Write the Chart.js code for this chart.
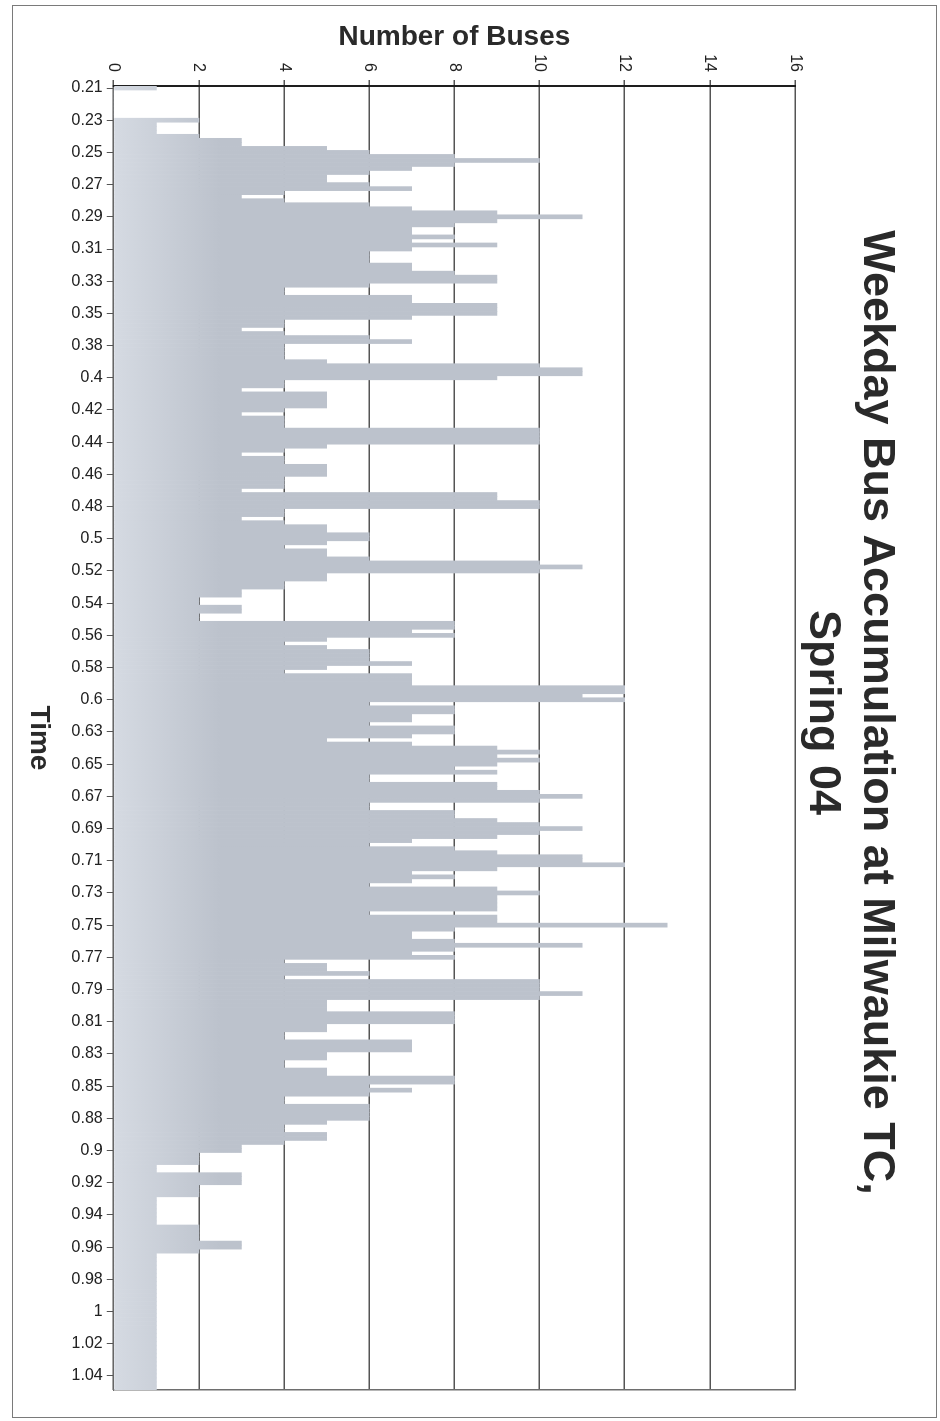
<!DOCTYPE html>
<html>
<head>
<meta charset="utf-8">
<title>Weekday Bus Accumulation at Milwaukie TC, Spring 04</title>
<script src="https://cdn.jsdelivr.net/npm/chart.js@4/dist/chart.umd.min.js"></script>
<style>
	html, body { margin: 0; padding: 0; background: #fff; }
	body { width: 940px; height: 1421px; position: relative; overflow: hidden; }
	#frame { position: absolute; left: 12px; top: 5px; width: 923px; height: 1411px; border: 1.5px solid #7a7a7a; }
	/* the chart was laid out sideways: draw it upright, then turn it a quarter clockwise */
	#turn { position: absolute; left: 0; top: 0; width: 1421px; height: 940px;
		transform-origin: 0 0; transform: translateX(940px) rotate(90deg); }
</style>
</head>
<body>
<div id="frame"></div>
<div id="turn"><canvas id="busChart" width="1421" height="940"></canvas></div>
<script>
// Weekday bus accumulation, Milwaukie TC, Spring 04

// time labels shown on the axis (fraction of a day), one every 8 bars
const tickLabels = [
	'0.21', '0.23', '0.25', '0.27', '0.29', '0.31', '0.33', '0.35', '0.38', '0.4',
	'0.42', '0.44', '0.46', '0.48', '0.5', '0.52', '0.54', '0.56', '0.58', '0.6',
	'0.63', '0.65', '0.67', '0.69', '0.71', '0.73', '0.75', '0.77', '0.79', '0.81',
	'0.83', '0.85', '0.88', '0.9', '0.92', '0.94', '0.96', '0.98', '1', '1.02', '1.04'
];
const barsPerLabel = 8;

// number of buses at the stop (8 readings per label step)
const busCounts = [
	1, 0, 0, 0, 0, 0, 0, 0,      // 0.21
	2, 1, 1, 1, 2, 3, 3, 5,      // 0.23
	6, 8, 10, 8, 7, 6, 5, 5,     // 0.25
	6, 7, 4, 3, 4, 6, 7, 9,      // 0.27
	11, 9, 8, 7, 7, 8, 7, 9,     // 0.29
	7, 6, 6, 6, 7, 7, 8, 9,      // 0.31
	9, 6, 4, 4, 7, 7, 9, 9,      // 0.33
	9, 7, 4, 4, 3, 4, 6, 7,      // 0.35
	4, 4, 4, 4, 5, 10, 11, 11,   // 0.38
	9, 4, 4, 3, 5, 5, 5, 5,      // 0.4
	4, 3, 4, 4, 4, 10, 10, 10,   // 0.42
	10, 5, 4, 3, 4, 4, 5, 5,     // 0.44
	5, 4, 4, 4, 3, 9, 9, 10,     // 0.46
	10, 4, 4, 3, 4, 5, 5, 6,     // 0.48
	6, 5, 4, 5, 5, 6, 10, 11,    // 0.5
	10, 5, 5, 4, 4, 3, 3, 2,     // 0.52
	2, 3, 3, 2, 2, 8, 8, 7,      // 0.54
	8, 5, 4, 5, 6, 6, 6, 7,      // 0.56
	5, 4, 7, 7, 7, 12, 12, 11,   // 0.58
	12, 6, 8, 8, 7, 7, 6, 8,     // 0.6
	8, 7, 5, 7, 9, 10, 9, 10,    // 0.63
	9, 8, 9, 6, 6, 9, 9, 10,     // 0.65
	11, 10, 6, 6, 8, 8, 9, 10,   // 0.67
	11, 10, 9, 7, 6, 8, 9, 11,   // 0.69
	11, 12, 9, 7, 8, 7, 6, 9,    // 0.71
	10, 9, 9, 9, 9, 6, 9, 9,     // 0.73
	13, 8, 7, 7, 8, 11, 8, 7,    // 0.75
	8, 4, 5, 5, 6, 4, 10, 10,    // 0.77
	10, 11, 10, 5, 5, 5, 8, 8,   // 0.79
	8, 5, 5, 4, 4, 7, 7, 7,      // 0.81
	5, 5, 4, 4, 5, 5, 8, 8,      // 0.83
	6, 7, 6, 4, 4, 6, 6, 6,      // 0.85
	6, 5, 4, 4, 5, 5, 4, 3,      // 0.88
	3, 2, 2, 2, 1, 1, 3, 3,      // 0.9
	3, 2, 2, 2, 1, 1, 1, 1,      // 0.92
	1, 1, 1, 2, 2, 2, 2, 3,      // 0.94
	3, 2, 1, 1, 1, 1, 1, 1,      // 0.96
	1, 1, 1, 1, 1, 1, 1, 1,      // 0.98
	1, 1, 1, 1, 1, 1, 1, 1,      // 1
	1, 1, 1, 1, 1, 1, 1, 1,      // 1.02
	1, 1, 1, 1                   // 1.04
];

// value axis
const busMin = 0;
const busMax = 16;
const busStep = 2;

// one category per bar, labelled only where the axis shows a time
const categories = busCounts.map((v, i) =>
	i % barsPerLabel === 0 ? (tickLabels[i / barsPerLabel] || '') : '');

Chart.defaults.font.family = 'Arial, "Liberation Sans", sans-serif';
Chart.defaults.color = '#262626';

function barFill(context) {
	const chart = context.chart;
	if (!chart.chartArea) return '#bfc5cf';
	const y = chart.scales.y;
	const g = chart.ctx.createLinearGradient(0, y.getPixelForValue(0), 0, y.getPixelForValue(2.5));
	g.addColorStop(0, '#d5dae2');
	g.addColorStop(1, '#bcc2cc');
	return g;
}

new Chart(document.getElementById('busChart'), {
	type: 'bar',
	data: {
		labels: categories,
		datasets: [{
			label: 'Buses',
			data: busCounts,
			backgroundColor: barFill,
			borderWidth: 0,
			barPercentage: 1,
			categoryPercentage: 1
		}]
	},
	options: {
		responsive: false,
		animation: false,
		devicePixelRatio: 1,
		layout: { padding: { left: 4, right: 0, top: 0, bottom: 22 } },
		plugins: {
			legend: { display: false },
			tooltip: { enabled: false },
			title: {
				display: true,
				text: ['Weekday Bus Accumulation at Milwaukie TC,', 'Spring 04'],
				font: { size: 45, weight: 'bold' },
				lineHeight: 1.2,
				color: '#2a2a2a',
				padding: { top: 37, bottom: 0 }
			}
		},
		scales: {
			x: {
				offset: true,
				grid: {
					offset: false,
					drawOnChartArea: false,
					tickLength: 7,
					color: ctx => (ctx.index % barsPerLabel === 0 ? '#555' : 'rgba(0,0,0,0)')
				},
				border: { display: true, color: '#666', width: 1 },
				ticks: {
					autoSkip: false,
					minRotation: 90,
					maxRotation: 90,
					padding: 4,
					font: { size: 16 },
					color: '#222'
				},
				title: {
					display: true,
					text: 'Time',
					font: { size: 28, weight: 'bold' },
					color: '#2a2a2a',
					padding: { top: 12, bottom: 0 }
				}
			},
			y: {
				min: busMin,
				max: busMax,
				afterFit: scale => { scale.width = 82; },
				ticks: { stepSize: busStep, padding: 8, font: { size: 16 }, color: '#222' },
				grid: { color: '#555', lineWidth: 1.5, tickLength: 6 },
				border: { display: true, color: '#1e1e1e', width: 2 },
				title: {
					display: true,
					text: 'Number of Buses',
					font: { size: 28, weight: 'bold' },
					color: '#2a2a2a',
					padding: { top: 16, bottom: 0 }
				}
			},
			// plot-area edge on the far side of the time axis
			edge: {
				position: 'right',
				afterFit: scale => { scale.width = 31; },
				grid: { display: false, drawTicks: false },
				ticks: { display: false },
				border: { display: true, color: '#6e6e6e', width: 1.5 }
			}
		}
	}
});
</script>
</body>
</html>
